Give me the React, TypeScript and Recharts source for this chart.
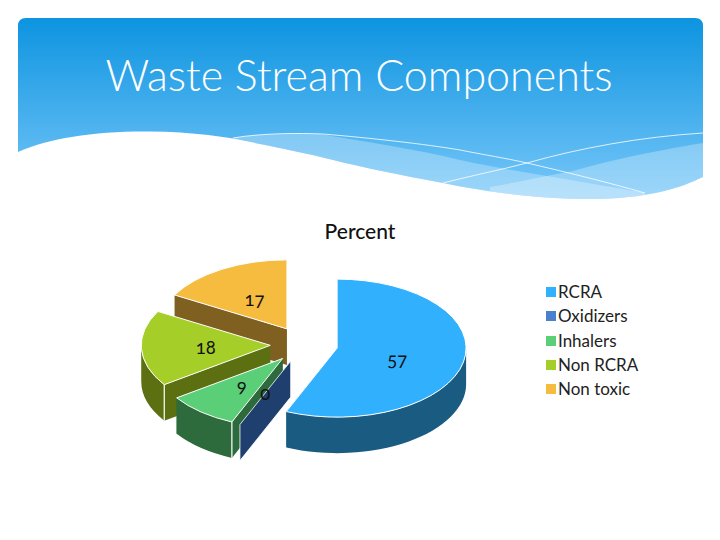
import React from 'react';
import { Legend, Pie, PieChart } from 'recharts';

const categories = ['RCRA', 'Oxidizers', 'Inhalers', 'Non RCRA', 'Non toxic'];
const percents = [57, 0, 9, 18, 17];

const topColors = ['#31B0FE', '#4A80CC', '#5BCE78', '#A5CE28', '#F5BC40'];
const wallColors = ['#1A5B82', '#1F3F6E', '#2E6B3C', '#5C7012', '#7F6020'];

// slices are painted back to front, so the table runs the other way round the pie
const pieData = categories
  .map((name, i) => ({ name, value: percents[i], fill: topColors[i], wall: wallColors[i] }))
  .reverse();

const CX = 304;
const CY = 344.5;
const RX = 129;
const TILT = 0.535;
const DEPTH = 36;
const EXPLODE = 0.262;
const FONT = 'Lato, "Open Sans", sans-serif';

const BANNER_EDGE =
  'M18,26 Q18,18 26,18 L695,18 Q703,18 703,26 L703,177 C682,187 655,197 600,199 C550,200 490,193 443,183 ' +
  'C400,175 365,168 333,160 C305,153 280,148 260,144 C230,137 195,132 150,131.5 C95,131 50,138 18,152 Z';

const rad = (a: number) => (a * Math.PI) / 180;

const Slice3D = (props: any) => {
  const { startAngle, endAngle, midAngle, outerRadius, fill, payload } = props;
  const rx = outerRadius;
  const ry = outerRadius * TILT;
  const lo = Math.min(startAngle, endAngle);
  const hi = Math.max(startAngle, endAngle);
  const mid = midAngle ?? (lo + hi) / 2;
  const ox = CX + Math.cos(rad(mid)) * rx * EXPLODE;
  const oy = CY - Math.sin(rad(mid)) * ry * EXPLODE;
  const px = (a: number) => ox + Math.cos(rad(a)) * rx;
  const py = (a: number) => oy - Math.sin(rad(a)) * ry;
  const wall = payload?.wall ?? props.wall;

  const radialWall = (a: number) =>
    `M${ox},${oy} L${px(a)},${py(a)} L${px(a)},${py(a) + DEPTH} L${ox},${oy + DEPTH} Z`;

  // the curved side only shows on the front half of the ellipse
  const rimParts: string[] = [];
  [-360, 0, 360].forEach((k) => {
    const a = Math.max(lo, -180 + k);
    const b = Math.min(hi, k);
    if (b > a) {
      const large = b - a > 180 ? 1 : 0;
      rimParts.push(
        `M${px(a)},${py(a)} A${rx},${ry} 0 ${large} 0 ${px(b)},${py(b)} ` +
          `L${px(b)},${py(b) + DEPTH} A${rx},${ry} 0 ${large} 1 ${px(a)},${py(a) + DEPTH} Z`,
      );
    }
  });

  const large = hi - lo > 180 ? 1 : 0;
  const top = `M${ox},${oy} L${px(lo)},${py(lo)} A${rx},${ry} 0 ${large} 0 ${px(hi)},${py(hi)} Z`;
  const empty = hi - lo < 0.01;
  const cornerVisible = !empty && Math.sin(rad(hi)) < 0;

  return (
    <g>
      <path
        d={radialWall(lo)}
        fill={wall}
        stroke={empty ? '#fff' : 'none'}
        strokeWidth={empty ? 0.8 : 0}
      />
      {!empty && <path d={radialWall(hi)} fill={wall} />}
      {rimParts.map((d) => (
        <path key={d} d={d} fill={wall} />
      ))}
      {!empty && <path d={top} fill={fill} stroke="#fff" strokeWidth={1} />}
      {cornerVisible && (
        <line x1={px(hi)} y1={py(hi)} x2={px(hi)} y2={py(hi) + DEPTH} stroke="#fff" strokeWidth={1.2} />
      )}
    </g>
  );
};

const sliceLabel = (props: any) => {
  const { midAngle, outerRadius, value, name } = props;
  const rx = outerRadius;
  const ry = outerRadius * TILT;
  const f = EXPLODE + 0.5;
  const x = CX + Math.cos(rad(midAngle)) * rx * f - (name === 'RCRA' ? 3 : 0);
  const y = CY - Math.sin(rad(midAngle)) * ry * f + (name === 'RCRA' ? 4 : 0);
  return (
    <text
      x={x}
      y={y}
      textAnchor="middle"
      dominantBaseline="central"
      fontFamily={FONT}
      fontSize={18.5}
      fill="#111"
      style={{ fontVariantNumeric: 'oldstyle-nums' }}
    >
      {value}
    </text>
  );
};

const LegendList = () => (
  <div style={{ fontFamily: FONT, fontSize: 17, color: '#222', lineHeight: '24.3px' }}>
    {categories.map((name, i) => (
      <div key={name} style={{ display: 'flex', alignItems: 'center', height: 24.3 }}>
        <span style={{ width: 10, height: 10, marginRight: 2, background: topColors[i] }} />
        {name}
      </div>
    ))}
  </div>
);

const Banner = () => (
  <svg width={720} height={220} style={{ position: 'absolute', left: 0, top: 0 }}>
    <defs>
      <linearGradient id="banner" x1="0" y1="0" x2="0" y2="1">
        <stop offset="0" stopColor="#0D94E0" />
        <stop offset="1" stopColor="#78C7F9" />
      </linearGradient>
      <clipPath id="bannerClip">
        <path d={BANNER_EDGE} />
      </clipPath>
    </defs>
    <path d={BANNER_EDGE} fill="url(#banner)" />
    <g clipPath="url(#bannerClip)">
      <path
        d="M233,138 C262,133 300,133 320,134 C367,142 420,150 460,160 C500,169 590,183 645,193 L645,210 L233,210 Z"
        fill="#fff"
        fillOpacity={0.28}
      />
      <path
        d="M490,187 C520,182 545,176 573,171 C610,160 660,150 703,143 L703,210 L490,210 Z"
        fill="#fff"
        fillOpacity={0.28}
      />
      <path
        d="M233,138 C262,133 300,133 323,134 C370,138 425,144 460,150 C485,155 505,158 527,163 C570,173 610,183 645,193"
        fill="none"
        stroke="#fff"
        strokeWidth={0.8}
      />
      <path d="M443,183 C470,176 500,170 527,163 C580,148 640,137 703,133" fill="none" stroke="#fff" strokeWidth={0.8} />
    </g>
    <text x={359} y={91} textAnchor="middle" fontFamily={FONT} fontSize={43} fontWeight={300} fill="#fff">
      Waste Stream Components
    </text>
  </svg>
);

export default function App() {
  return (
    <div style={{ position: 'absolute', left: 0, top: 0, width: 720, height: 540, background: '#fff' }}>
      <Banner />
      <div
        style={{
          position: 'absolute',
          left: 0,
          top: 218,
          width: 720,
          textAlign: 'center',
          fontFamily: FONT,
          fontSize: 21,
          fontWeight: 500,
          color: '#111',
        }}
      >
        Percent
      </div>
      <div style={{ position: 'absolute', left: 0, top: 0 }}>
        <PieChart width={720} height={540} margin={{ top: 0, right: 0, bottom: 0, left: 0 }}>
          <Pie
            data={pieData}
            dataKey="value"
            nameKey="name"
            cx={CX}
            cy={CY}
            outerRadius={RX}
            startAngle={-270}
            endAngle={90}
            stroke="none"
            shape={Slice3D}
            label={sliceLabel}
            labelLine={false}
            isAnimationActive={false}
          />
          <Legend
            layout="vertical"
            align="left"
            verticalAlign="top"
            wrapperStyle={{ left: 546, top: 280, width: 120 }}
            content={LegendList}
          />
        </PieChart>
      </div>
    </div>
  );
}
